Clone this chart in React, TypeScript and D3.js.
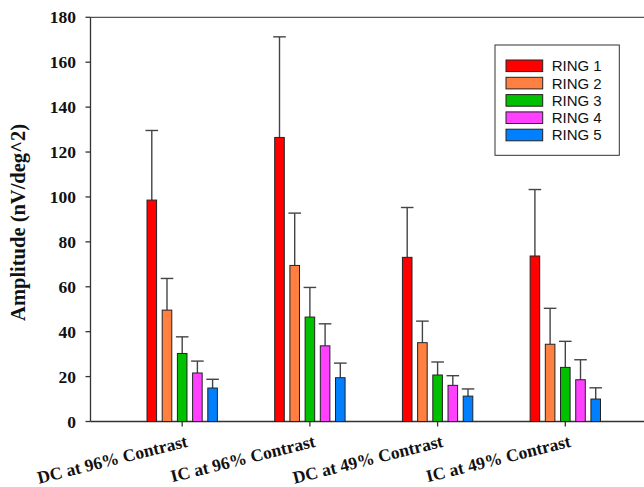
import React from "react";
import * as d3 from "d3";

const categories = ["DC at 96% Contrast", "IC at 96% Contrast", "DC at 49% Contrast", "IC at 49% Contrast"];
const seriesNames = ["RING 1", "RING 2", "RING 3", "RING 4", "RING 5"];
const seriesColors = ["#ff0000", "#ff8040", "#00c000", "#ff40ff", "#0080ff"];
// values[series][category]
const ring1 = [98.6, 126.5, 73.1, 73.7];
const ring2 = [49.6, 69.5, 35.1, 34.4];
const ring3 = [30.3, 46.5, 20.7, 24.1];
const ring4 = [21.6, 33.7, 16.1, 18.6];
const ring5 = [14.9, 19.5, 11.3, 10.0];
const err1 = [31.0, 44.8, 22.2, 29.6];
const err2 = [14.1, 23.3, 9.6, 16.0];
const err3 = [7.4, 13.2, 5.8, 11.6];
const err4 = [5.3, 9.8, 4.3, 8.9];
const err5 = [3.9, 6.5, 3.2, 5.0];
const yTicks = [0, 20, 40, 60, 80, 100, 120, 140, 160, 180];

const values = [ring1, ring2, ring3, ring4, ring5];
const errors = [err1, err2, err3, err4, err5];

export default function App() {
  const W = 644, H = 487;
  const left = 90.5, top = 17.3, bottom = 421.5, right = 657;
  const x0 = d3.scaleBand<string>().domain(categories).range([left, right]).paddingInner(0).paddingOuter(0.218);
  const x1 = d3.scaleBand<string>().domain(seriesNames).range([-38, 38]).paddingInner(0.37).paddingOuter(0.185);
  const y = d3.scaleLinear().domain([0, 180]).range([bottom, top]);
  const serif = "'Liberation Serif', 'Times New Roman', serif";
  const sans = "'Liberation Sans', Arial, sans-serif";
  const axisColor = "#333";

  return (
    <svg width={W} height={H} style={{ position: "absolute", left: 0, top: 0, background: "#fff" }}>
      <rect x={0} y={0} width={W} height={H} fill="#fff" />
      {/* frame */}
      <line x1={left} x2={W} y1={top} y2={top} stroke="#555" strokeWidth={1.3} />
      <line x1={left} x2={left} y1={top} y2={bottom} stroke={axisColor} strokeWidth={1.3} />
      <line x1={left} x2={W} y1={bottom} y2={bottom} stroke={axisColor} strokeWidth={1.3} />
      {/* y ticks */}
      {yTicks.map((t) => (
        <g key={t}>
          <line x1={left - 5} x2={left} y1={y(t)} y2={y(t)} stroke={axisColor} strokeWidth={1.3} />
          <text x={76} y={y(t)} dy="0.35em" textAnchor="end" fontFamily={serif} fontWeight="bold" fontSize={17.5} fill="#111">{t}</text>
        </g>
      ))}
      <text transform={`translate(25, ${(top + bottom) / 2 + 3}) rotate(-90)`} textAnchor="middle" fontFamily={serif} fontWeight="bold" fontSize={20.5} fill="#111">Amplitude (nV/deg^2)</text>
      {/* x ticks and labels */}
      {categories.map((c) => {
        const cx = x0(c)! + x0.bandwidth() / 2;
        return (
          <g key={c}>
            <line x1={cx} x2={cx} y1={bottom} y2={bottom + 5} stroke={axisColor} strokeWidth={1.3} />
            <text transform={`translate(${cx + 6.3}, 446.5) rotate(-14)`} textAnchor="end" fontFamily={serif} fontWeight="bold" fontSize={17.5} fill="#111">{c}</text>
          </g>
        );
      })}
      {/* bars */}
      {categories.map((c, ci) => {
        const cx = x0(c)! + x0.bandwidth() / 2;
        return seriesNames.map((s, si) => {
          const v = values[si][ci];
          const e = errors[si][ci];
          const bx = cx + x1(s)!;
          const mid = bx + x1.bandwidth() / 2;
          return (
            <g key={c + s}>
              <line x1={mid} x2={mid} y1={y(v)} y2={y(v + e)} stroke="#444" strokeWidth={1.4} />
              <line x1={mid - 6.3} x2={mid + 6.3} y1={y(v + e)} y2={y(v + e)} stroke="#444" strokeWidth={1.4} />
              <rect x={bx} y={y(v)} width={x1.bandwidth()} height={bottom - y(v)} fill={seriesColors[si]} stroke="#222" strokeWidth={1} />
            </g>
          );
        });
      })}
      {/* legend */}
      <rect x={495} y={45} width={124.3} height={110.3} fill="#fff" stroke="#333" strokeWidth={1} />
      {seriesNames.map((s, i) => {
        const cy = 65.8 + i * 17.3;
        return (
          <g key={s}>
            <rect x={506} y={cy - 5.8} width={36.7} height={11.6} fill={seriesColors[i]} stroke="#222" strokeWidth={1} />
            <text x={551.7} y={cy} dy="0.36em" fontFamily={sans} fontSize={15} fill="#111">{s}</text>
          </g>
        );
      })}
    </svg>
  );
}
